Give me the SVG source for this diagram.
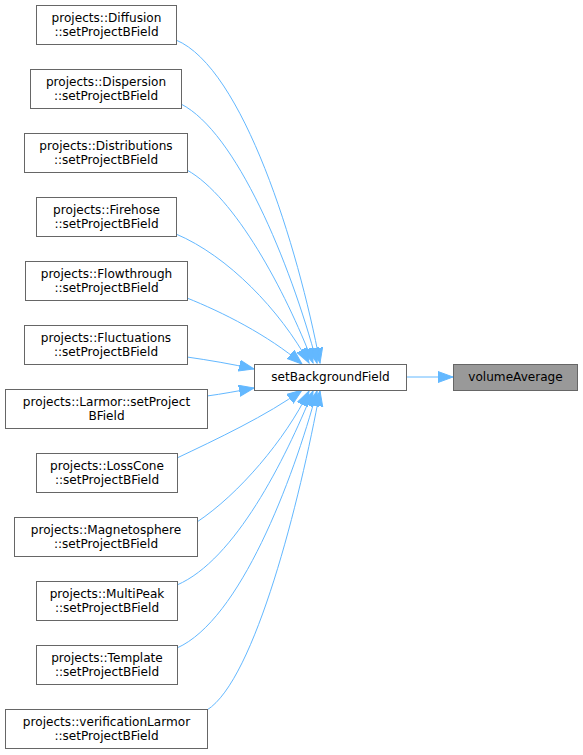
<svg xmlns="http://www.w3.org/2000/svg" width="583" height="755" viewBox="0 0 583 755">
<style>
.n rect{fill:#ffffff;stroke:#666666;stroke-width:1}
.n text{font-family:"DejaVu Sans",sans-serif;font-size:12.1px;fill:#000000;text-anchor:middle}
#volumeAverage rect{fill:#999999}
.e path{fill:none;stroke:#63b8ff;stroke-width:1;marker-end:url(#ah)}
</style>
<defs>
<marker id="ah" markerUnits="userSpaceOnUse" markerWidth="17" markerHeight="13" refX="15" refY="6" orient="auto">
<path d="M0,0.5 L15,6 L0,11.5 Z" fill="#63b8ff" stroke="#63b8ff" stroke-width="1"/>
</marker>
</defs>
<rect width="583" height="755" fill="#ffffff"/>
<g id="edges" class="e">
<path d="M406,377 L453,377"/>
<path d="M176,40 C243,68 298,247 320,363"/>
<path d="M181,104 C236,132 290,262 317,363"/>
<path d="M187,170 C235,197 285,290 313,363"/>
<path d="M176,234 C228,256 280,310 309,363"/>
<path d="M187,298 C222,312 268,335 302,364"/>
<path d="M187,357 C208,360 232,364 254,369"/>
<path d="M207,396 C222,394 238,391 254,388"/>
<path d="M177,458 C215,440 268,415 302,390"/>
<path d="M197,522 C239,494 285,440 309,391"/>
<path d="M177,585 C235,560 285,460 313,391"/>
<path d="M177,648 C240,620 293,480 317,391"/>
<path d="M207,710 C255,680 300,500 320,391"/>
</g>
<g id="setBackgroundField" class="n"><rect x="254.5" y="364.5" width="152" height="26"/><text x="330.5" y="381">setBackgroundField</text></g>
<g id="volumeAverage" class="n"><rect x="453.5" y="364.5" width="124" height="26"/><text x="515.5" y="381">volumeAverage</text></g>
<g id="Diffusion" class="n"><rect x="36.5" y="5.5" width="140" height="39"/><text x="106.5" y="22">projects::Diffusion</text><text x="106.5" y="36">::setProjectBField</text></g>
<g id="Dispersion" class="n"><rect x="30.5" y="69.5" width="151" height="39"/><text x="106" y="86">projects::Dispersion</text><text x="106" y="100">::setProjectBField</text></g>
<g id="Distributions" class="n"><rect x="24.5" y="133.5" width="163" height="39"/><text x="106" y="150">projects::Distributions</text><text x="106" y="164">::setProjectBField</text></g>
<g id="Firehose" class="n"><rect x="36.5" y="197.5" width="140" height="39"/><text x="106.5" y="214">projects::Firehose</text><text x="106.5" y="228">::setProjectBField</text></g>
<g id="Flowthrough" class="n"><rect x="25.5" y="261.5" width="162" height="39"/><text x="106.5" y="278">projects::Flowthrough</text><text x="106.5" y="292">::setProjectBField</text></g>
<g id="Fluctuations" class="n"><rect x="24.5" y="325.5" width="163" height="39"/><text x="106" y="342">projects::Fluctuations</text><text x="106" y="356">::setProjectBField</text></g>
<g id="Larmor" class="n"><rect x="5.5" y="389.5" width="202" height="39"/><text x="106.5" y="406">projects::Larmor::setProject</text><text x="106.5" y="420">BField</text></g>
<g id="LossCone" class="n"><rect x="36.5" y="453.5" width="141" height="39"/><text x="107" y="470">projects::LossCone</text><text x="107" y="484">::setProjectBField</text></g>
<g id="Magnetosphere" class="n"><rect x="14.5" y="517.5" width="183" height="39"/><text x="106" y="534">projects::Magnetosphere</text><text x="106" y="548">::setProjectBField</text></g>
<g id="MultiPeak" class="n"><rect x="36.5" y="581.5" width="141" height="39"/><text x="107" y="598">projects::MultiPeak</text><text x="107" y="612">::setProjectBField</text></g>
<g id="Template" class="n"><rect x="36.5" y="645.5" width="141" height="39"/><text x="107" y="662">projects::Template</text><text x="107" y="676">::setProjectBField</text></g>
<g id="verificationLarmor" class="n"><rect x="5.5" y="709.5" width="202" height="39"/><text x="106.5" y="726">projects::verificationLarmor</text><text x="106.5" y="740">::setProjectBField</text></g>
</svg>
